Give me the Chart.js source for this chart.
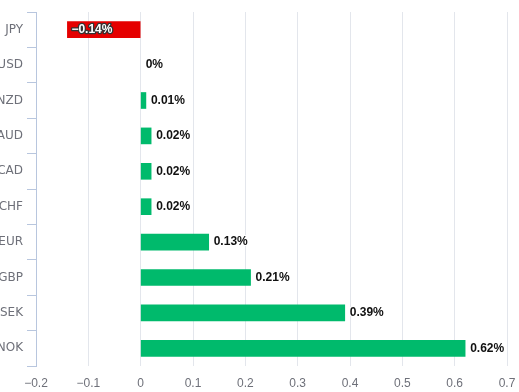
<!DOCTYPE html>
<html>
<head>
<meta charset="utf-8">
<script src="https://cdn.jsdelivr.net/npm/chart.js@4"></script>
<style>
  html, body { margin: 0; padding: 0; background: #fff; }
  #wrap { width: 519px; height: 392px; position: relative; }
</style>
</head>
<body>
<div id="wrap"><canvas id="fxChart"></canvas></div>
<script>
// data
const currencies = ['JPY', 'USD', 'NZD', 'AUD', 'CAD', 'CHF', 'EUR', 'GBP', 'SEK', 'NOK'];
const changes = [-0.14, 0, 0.01, 0.02, 0.02, 0.02, 0.13, 0.21, 0.39, 0.62];
const xTicks = [-0.2, -0.1, 0, 0.1, 0.2, 0.3, 0.4, 0.5, 0.6, 0.7];

const GREEN = '#00ba6c';
const RED = '#e50000';

function fmtPct(v) {
  return (v < 0 ? '\u2212' : '') + Math.abs(v) + '%';
}

// value labels next to / inside the bars
const barLabels = {
  id: 'barLabels',
  afterDatasetsDraw(chart) {
    const c = chart.ctx;
    const meta = chart.getDatasetMeta(0);
    c.save();
    c.font = 'bold 12px "Liberation Sans", Arial, sans-serif';
    c.textBaseline = 'middle';
    c.textAlign = 'left';
    c.lineJoin = 'round';
    meta.data.forEach((bar, i) => {
      const v = changes[i];
      const txt = fmtPct(v);
      if (v < 0) {
        const x = Math.min(bar.x, bar.base) + 4;
        c.lineWidth = 2.5;
        c.strokeStyle = '#333';
        c.strokeText(txt, x, bar.y);
        c.fillStyle = '#fff';
        c.fillText(txt, x, bar.y);
      } else {
        const x = bar.x + 5;
        c.lineWidth = 2;
        c.strokeStyle = '#fff';
        c.strokeText(txt, x, bar.y);
        c.fillStyle = '#111';
        c.fillText(txt, x, bar.y);
      }
    });
    c.restore();
  }
};

const ctx = document.getElementById('fxChart').getContext('2d');
const fxChart = new Chart(ctx, {
  type: 'bar',
  data: {
    labels: currencies,
    datasets: [{
      data: changes,
      backgroundColor: changes.map(v => v < 0 ? RED : (v === 0 ? 'rgba(0,0,0,0)' : GREEN)),
      barThickness: 16,
      borderWidth: 0
    }]
  },
  options: {
    indexAxis: 'y',
    responsive: true,
    maintainAspectRatio: false,
    animation: false,
    layout: { padding: { top: 12, right: 12, left: 0, bottom: 0 } },
    plugins: { legend: { display: false }, tooltip: { enabled: false } },
    scales: {
      x: {
        type: 'linear',
        min: -0.2,
        max: 0.7,
        afterBuildTicks: (scale) => { scale.ticks = xTicks.map(v => ({ value: v })); },
        afterFit: (scale) => {
          scale.height = 26;
          scale.paddingLeft = 0;
          scale.paddingRight = 0;
        },
        border: { display: false },
        grid: { color: '#e3e6ec', drawTicks: false },
        ticks: {
          padding: 10,
          color: '#6e7079',
          font: { family: '"Liberation Sans", Arial, sans-serif', size: 12 },
          callback: (v) => {
            const r = Math.round(v * 10) / 10;
            return r === 0 ? '0' : (r < 0 ? '\u2212' : '') + Math.abs(r).toFixed(1);
          }
        }
      },
      y: {
        afterFit: (scale) => {
          scale.width = 36;
          scale.paddingTop = 0;
          scale.paddingBottom = 0;
        },
        border: { display: true, color: '#b8c6de', width: 1 },
        grid: { drawOnChartArea: false, offset: true, color: '#b8c6de', tickLength: 9 },
        ticks: {
          padding: 4,
          color: '#6e7079',
          font: { family: '"DejaVu Sans", sans-serif', size: 12 }
        }
      }
    }
  },
  plugins: [barLabels]
});
</script>
</body>
</html>
